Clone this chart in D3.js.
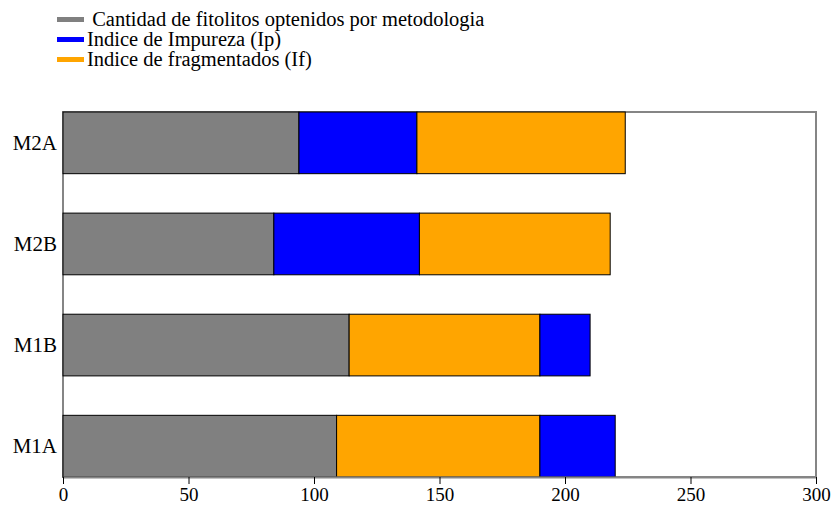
<!DOCTYPE html>
<html>
  <head>
    <style>
      body { margin: 0; background: #fff; }
      text { font-family: "Times New Roman", Times, "Liberation Serif", "DejaVu Serif", serif; fill: #000; }
      .frame { fill: none; stroke: #858585; stroke-width: 2; }
      .bar { stroke: #000; stroke-width: 1; }
      .axis path { stroke: #858585; stroke-width: 2; }
      .axis line { stroke: #000; }
    </style>
  </head>
  <body>
    <div id="chart"></div>
    <script src="https://d3js.org/d3.v7.min.js"></script>
    <script>
      const categories = ["M2A", "M2B", "M1B", "M1A"];
      const cantidad = [94, 84, 114, 109];
      const impureza = [47, 58, 20, 30];
      const fragmentados = [83, 76, 76, 81];
      // order of the segments inside each bar, left to right
      const segmentOrder = [
        ["cantidad", "impureza", "fragmentados"],
        ["cantidad", "impureza", "fragmentados"],
        ["cantidad", "fragmentados", "impureza"],
        ["cantidad", "fragmentados", "impureza"],
      ];
      const seriesNames = ["cantidad", "impureza", "fragmentados"];
      const seriesLabels = [
        " Cantidad de fitolitos optenidos por metodologia",
        "Indice de Impureza (Ip)",
        "Indice de fragmentados (If)",
      ];
      const xTicks = [0, 50, 100, 150, 200, 250, 300];

      const values = { cantidad: cantidad, impureza: impureza, fragmentados: fragmentados };
      const colors = { cantidad: "#808080", impureza: "#0000ff", fragmentados: "#ffa500" };
      const serif = '"Times New Roman", Times, "Liberation Serif", "DejaVu Serif", serif';

      const width = 831, height = 506;
      const margin = { top: 112, right: 15, bottom: 29, left: 63 };

      const svg = d3.select("#chart").append("svg")
        .attr("width", width)
        .attr("height", height);

      const x = d3.scaleLinear().domain([0, 300]).range([margin.left, width - margin.right]);
      const y = d3.scaleBand().domain(categories)
        .range([margin.top, height - margin.bottom])
        .paddingInner(0.39)
        .paddingOuter(0);

      // build segments
      const segments = [];
      categories.forEach((c, i) => {
        let start = 0;
        segmentOrder[i].forEach((s) => {
          const v = values[s][i];
          segments.push({ cat: c, series: s, x0: start, x1: start + v });
          start += v;
        });
      });

      // frame
      svg.append("rect")
        .attr("class", "frame")
        .attr("x", x(0))
        .attr("y", margin.top)
        .attr("width", x(300) - x(0))
        .attr("height", height - margin.bottom - margin.top);

      svg.selectAll(".bar")
        .data(segments)
        .enter()
        .append("rect")
        .attr("class", "bar")
        .attr("x", (d) => x(d.x0))
        .attr("y", (d) => y(d.cat))
        .attr("width", (d) => x(d.x1) - x(d.x0))
        .attr("height", y.bandwidth())
        .attr("fill", (d) => colors[d.series]);

      // x axis
      const xAxis = svg.append("g")
        .attr("class", "axis")
        .attr("transform", "translate(0," + (height - margin.bottom) + ")")
        .call(d3.axisBottom(x).tickValues(xTicks).tickSize(7).tickSizeOuter(0).tickPadding(4));
      xAxis.selectAll("text").style("font-size", "19px").style("font-family", serif);

      // y axis labels
      const yAxis = svg.append("g")
        .attr("class", "axis")
        .attr("transform", "translate(" + margin.left + ",0)")
        .call(d3.axisLeft(y).tickSize(0).tickPadding(6));
      yAxis.select(".domain").remove();
      yAxis.selectAll("text").style("font-size", "21px").style("font-family", serif);

      // legend
      const legend = svg.append("g").attr("transform", "translate(57,0)");
      seriesNames.forEach((s, i) => {
        const row = legend.append("g").attr("transform", "translate(0," + (17 + i * 20) + ")");
        row.append("rect")
          .attr("width", 27)
          .attr("height", 5)
          .attr("fill", colors[s]);
        row.append("text")
          .attr("x", 30)
          .attr("y", 9)
          .style("white-space", "pre")
          .style("font-size", "20.5px")
          .style("font-family", serif)
          .text(seriesLabels[i]);
      });
    </script>
  </body>
</html>
